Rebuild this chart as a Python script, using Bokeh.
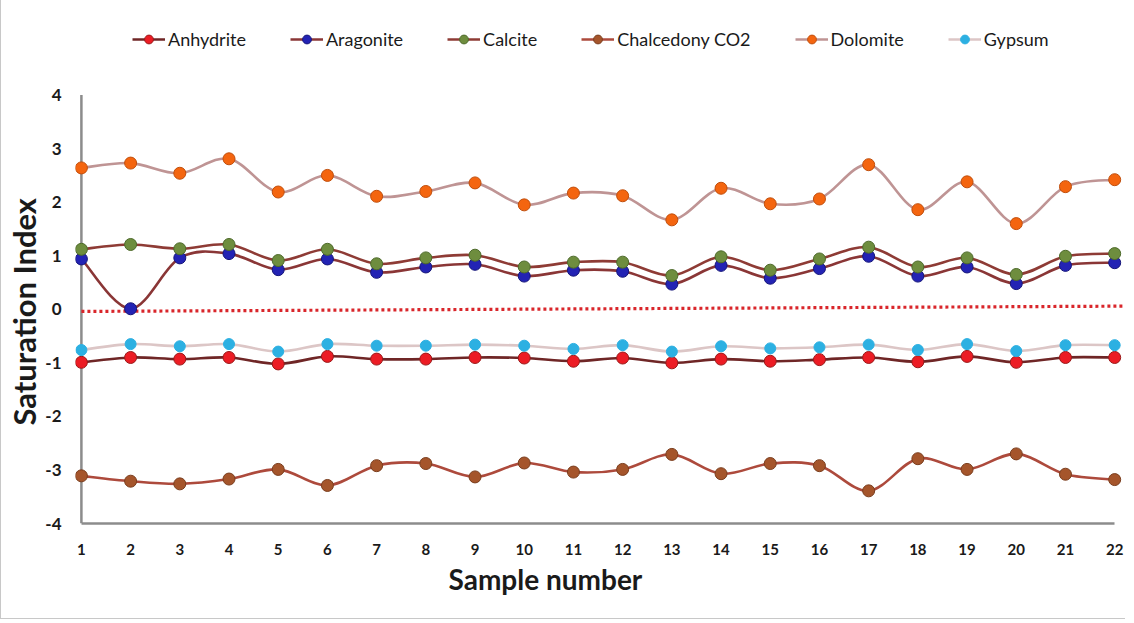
from bokeh.plotting import figure
from bokeh.models import (Legend, LegendItem, FixedTicker, ColumnDataSource, Range1d, Title)
from bokeh.embed import file_html
from bokeh.resources import INLINE

samples = list(range(1, 23))
anhydrite = [-0.99, -0.90, -0.93, -0.90, -1.02, -0.88, -0.93, -0.93, -0.90, -0.91, -0.97,
             -0.91, -1.00, -0.93, -0.97, -0.94, -0.90, -0.98, -0.88, -0.99, -0.90, -0.90]
aragonite = [0.94, 0.01, 0.96, 1.04, 0.74, 0.94, 0.69, 0.79, 0.84, 0.62, 0.73,
             0.71, 0.47, 0.82, 0.58, 0.76, 0.99, 0.62, 0.79, 0.48, 0.82, 0.87]
calcite = [1.12, 1.21, 1.13, 1.21, 0.91, 1.12, 0.85, 0.96, 1.01, 0.79, 0.88,
           0.88, 0.63, 0.98, 0.73, 0.94, 1.16, 0.79, 0.96, 0.65, 0.99, 1.04]
chalcedony = [-3.11, -3.21, -3.26, -3.17, -2.99, -3.29, -2.92, -2.88, -3.13, -2.87, -3.04,
              -2.99, -2.71, -3.07, -2.88, -2.92, -3.39, -2.79, -2.99, -2.70, -3.08, -3.18]
dolomite = [2.64, 2.73, 2.54, 2.81, 2.19, 2.50, 2.11, 2.20, 2.36, 1.95, 2.17,
            2.12, 1.67, 2.26, 1.97, 2.06, 2.70, 1.86, 2.38, 1.60, 2.29, 2.42]
gypsum = [-0.76, -0.65, -0.69, -0.65, -0.79, -0.65, -0.68, -0.68, -0.66, -0.68, -0.74,
          -0.67, -0.79, -0.69, -0.73, -0.71, -0.66, -0.76, -0.65, -0.78, -0.67, -0.67]

series_names = ["Anhydrite", "Aragonite", "Calcite", "Chalcedony CO2", "Dolomite", "Gypsum"]
series_values = [anhydrite, aragonite, calcite, chalcedony, dolomite, gypsum]
line_colors = ["#6f2626", "#8a3636", "#8e3b35", "#ad4a3c", "#bf9494", "#dcc6c6"]
fill_colors = ["#ec1c24", "#2323b4", "#6e8d3e", "#a5552b", "#f4650f", "#2cb0e2"]
edge_colors = ["#9a1a1a", "#15157a", "#4d6a2a", "#7a3d1d", "#c04e0c", "#2cb0e2"]

y_ticks = [-4, -3, -2, -1, 0, 1, 2, 3, 4]
ref_line_x = [1, 22.4]
ref_line_y = [-0.04, 0.06]

FONT = "Lato"


def smooth_segments(xs, ys):
    """Bezier control points for a smoothed line through the data points."""
    n = len(xs)
    d = dict(x0=[], y0=[], x1=[], y1=[], cx0=[], cy0=[], cx1=[], cy1=[])
    for i in range(n - 1):
        xm, ym = (xs[i - 1], ys[i - 1]) if i > 0 else (xs[i], ys[i])
        xp, yp = (xs[i + 2], ys[i + 2]) if i + 2 < n else (xs[i + 1], ys[i + 1])
        d["x0"].append(xs[i]); d["y0"].append(ys[i])
        d["x1"].append(xs[i + 1]); d["y1"].append(ys[i + 1])
        d["cx0"].append(xs[i] + (xs[i + 1] - xm) / 6.0)
        d["cy0"].append(ys[i] + (ys[i + 1] - ym) / 6.0)
        d["cx1"].append(xs[i + 1] - (xp - xs[i]) / 6.0)
        d["cy1"].append(ys[i + 1] - (yp - ys[i]) / 6.0)
    return d


# frame extends above y=4 to leave room for the legend row
p = figure(frame_width=1050, frame_height=505,
           min_border_left=74, min_border_right=0, min_border_top=18, min_border_bottom=95,
           x_range=Range1d(0.88, 22.22), y_range=Range1d(-4, 5.43),
           output_backend="svg", toolbar_location=None)
p.styles = {"border-left": "1px solid #c8c8c8", "border-bottom": "1px solid #c8c8c8"}

p.xgrid.visible = False
p.ygrid.visible = False
p.outline_line_color = None
p.background_fill_color = "white"
p.border_fill_color = "white"

# axes
p.xaxis.ticker = FixedTicker(ticks=samples)
p.xaxis.bounds = (1, 22)
p.yaxis.ticker = FixedTicker(ticks=y_ticks)
p.yaxis.major_label_overrides = {t: str(t) for t in y_ticks}
for ax in (p.xaxis[0], p.yaxis[0]):
    ax.major_tick_line_color = None
    ax.minor_tick_line_color = None
    ax.major_label_text_font = FONT
    ax.major_label_text_font_style = "bold"
    ax.major_label_text_color = "#1a1a1a"
p.xaxis.axis_line_color = "#8c8c8c"
p.xaxis.axis_line_width = 2.5
p.yaxis.axis_line_color = None
p.xaxis.major_label_text_font_size = "15px"
p.yaxis.major_label_text_font_size = "17px"
p.xaxis.major_label_standoff = 14
p.yaxis.major_label_standoff = 8

p.add_layout(Title(text="Saturation Index", align="left", offset=98, standoff=0,
                   text_font=FONT, text_font_size="31px", text_font_style="bold",
                   text_color="#1a1a1a"), "left")
p.add_layout(Title(text="Sample number", align="left", offset=373, standoff=4,
                   text_font=FONT, text_font_size="28px", text_font_style="bold",
                   text_color="#1a1a1a"), "below")

# vertical axis line at the first sample, spanning the tick range
p.segment(x0=[samples[0]], y0=[y_ticks[0]], x1=[samples[0]], y1=[y_ticks[-1]],
          line_color="#8c8c8c", line_width=2.5)

# red dotted reference line near zero
p.line(ref_line_x, ref_line_y, line_color="#d9262b", line_width=3.2, line_dash="3 3")

items = []
for name, vals, lc, fc, ec in zip(series_names, series_values, line_colors, fill_colors, edge_colors):
    seg = ColumnDataSource(smooth_segments(samples, vals))
    p.bezier(x0="x0", y0="y0", x1="x1", y1="y1", cx0="cx0", cy0="cy0",
             cx1="cx1", cy1="cy1", source=seg, line_color=lc, line_width=2.6)
    size = 11 if name == "Gypsum" else 12
    r_pts = p.scatter(samples, vals, size=size, fill_color=fc, line_color=ec, line_width=1)
    leg_line = p.line([samples[0], samples[1]], [vals[0], vals[1]], line_color=lc,
                      line_width=2.6, visible=False)
    items.append(LegendItem(label=name, renderers=[leg_line, r_pts]))

legend = Legend(items=items, orientation="horizontal", location=(57, 473),
                label_text_font=FONT, label_text_font_size="18px", label_text_color="#1a1a1a",
                glyph_width=33, glyph_height=22, label_standoff=3, spacing=44,
                padding=0, margin=0, border_line_color=None, background_fill_alpha=0)
p.add_layout(legend, "center")

open("out.html", "w").write(file_html(p, INLINE))
